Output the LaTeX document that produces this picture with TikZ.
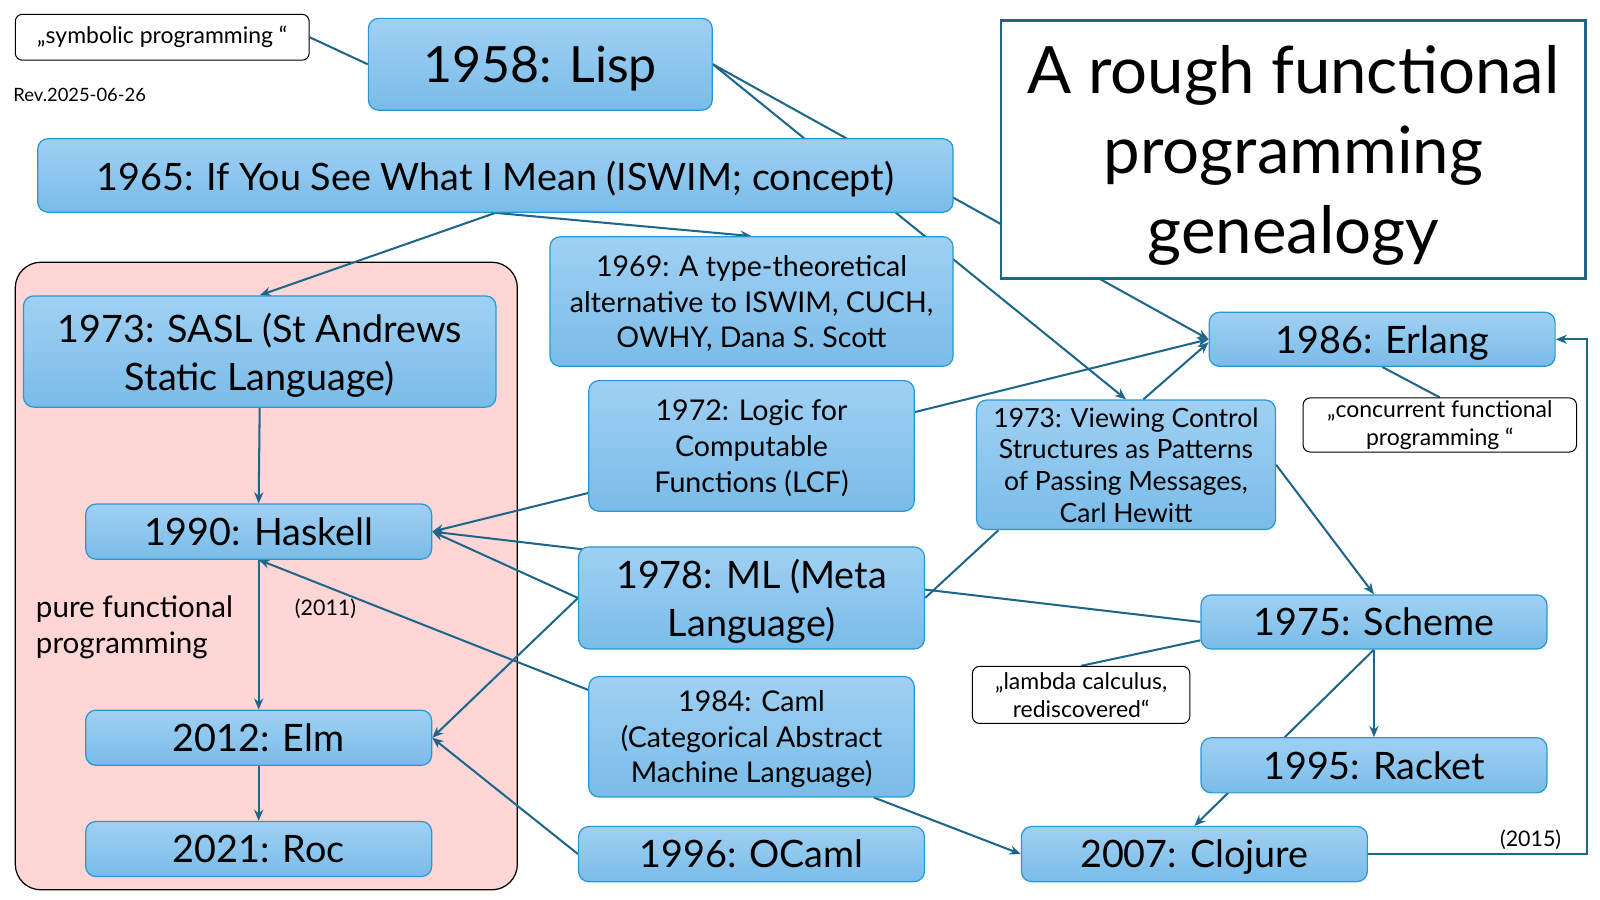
\documentclass[tikz,border=0pt]{standalone}
\usepackage{fontspec}
\setmainfont{Lato}
\usetikzlibrary{arrows.meta}

\definecolor{linkblue}{RGB}{30,102,138}
\definecolor{boxedge}{RGB}{40,152,212}
\definecolor{boxtop}{RGB}{160,208,243}
\definecolor{boxbot}{RGB}{121,188,232}
\definecolor{purepink}{RGB}{255,214,214}

\pgfdeclarelayer{back}
\pgfdeclarelayer{links}
\pgfsetlayers{back,links,main}

\tikzset{
  lang/.style={draw=boxedge, line width=1.2pt, rounded corners=10pt, text depth=0pt,
               top color=boxtop, bottom color=boxbot, inner sep=0pt, align=center},
  quote/.style={draw=black, fill=white, line width=1pt, rounded corners=7pt,
                inner sep=0pt, align=center, font=\fontsize{22.5}{27}\selectfont},
  big/.style={font=\fontsize{37}{47}\selectfont},
  mid/.style={font=\fontsize{28}{35}\selectfont},
  small/.style={font=\fontsize{21}{24}\selectfont},
  link/.style={draw=linkblue, line width=2pt},
}

\begin{document}
\begin{tikzpicture}[x=1pt, y=-1pt, >={Stealth[length=11pt,width=9pt]}]
    \useasboundingbox (0,0) rectangle (1568,882);

    % Title and notes
    \node[draw=linkblue, line width=2.5pt, fill=white, minimum width=573pt, minimum height=253pt,
          inner sep=0pt, align=center, text depth=0pt, font=\fontsize{64}{78}\selectfont] (title) at (1267.5,146.5)
          {A rough functional\\programming\\genealogy};
    \node[quote, minimum width=288pt, minimum height=45pt] (symb) at (159,36.5) {„symbolic programming “};
    \node[anchor=west, inner sep=0pt, font=\fontsize{18}{20}\selectfont] (rev) at (13,93) {Rev.2025-06-26};

    % Languages
    \node[lang, font=\fontsize{49}{60}\selectfont, minimum width=337pt, minimum height=90pt] (lisp) at (529.5,63) {1958: Lisp};
    \node[lang, big, minimum width=897pt, minimum height=72pt] (iswim) at (485.5,172) {1965: If You See What I Mean (ISWIM; concept)};
    \node[lang, mid, minimum width=395pt, minimum height=127pt] (cuch) at (736.5,295.5)
          {1969: A type-theoretical\\alternative to ISWIM, CUCH,\\OWHY, Dana S. Scott};
    \node[lang, big, minimum width=463pt, minimum height=109pt] (sasl) at (254.5,344.5) {1973: SASL (St Andrews\\Static Language)};
    \node[lang, mid, minimum width=319pt, minimum height=128pt] (lcf) at (736.5,437) {1972: Logic for\\Computable\\Functions (LCF)};
    \node[lang, font=\fontsize{26}{31}\selectfont, minimum width=293pt, minimum height=127pt] (hewitt) at (1103.5,455.5)
          {1973: Viewing Control\\Structures as Patterns\\of Passing Messages,\\Carl Hewitt};
    \node[lang, big, minimum width=339pt, minimum height=53pt] (erlang) at (1354.5,332.5) {1986: Erlang};
    \node[quote, minimum width=268pt, minimum height=53pt] (concur) at (1411,416.5) {„concurrent functional\\programming “};
    \node[lang, big, minimum width=339pt, minimum height=54pt] (haskell) at (253.5,521) {1990: Haskell};
    \node[lang, big, minimum width=339pt, minimum height=100pt] (ml) at (736.5,586) {1978: ML (Meta\\Language)};
    \node[lang, big, minimum width=339pt, minimum height=53pt] (scheme) at (1346.5,609.5) {1975: Scheme};
    \node[quote, minimum width=213pt, minimum height=56pt] (lambda) at (1059.5,681) {„lambda calculus,\\rediscovered“};
    \node[anchor=west, inner sep=0pt, align=left, font=\fontsize{29}{35}\selectfont] (pure) at (35,614.5) {pure functional\\programming};
    \node[small, inner sep=0pt] (n2011) at (319,597) {(2011)};
    \node[lang, big, minimum width=339pt, minimum height=54pt] (elm) at (253.5,723) {2012: Elm};
    \node[lang, mid, minimum width=319pt, minimum height=118pt] (caml) at (736.5,722)
          {1984: Caml\\(Categorical Abstract\\Machine Language)};
    \node[lang, big, minimum width=339pt, minimum height=54pt] (racket) at (1346.5,750) {1995: Racket};
    \node[lang, big, minimum width=339pt, minimum height=54pt] (roc) at (253.5,832) {2021: Roc};
    \node[lang, big, minimum width=339pt, minimum height=54pt] (ocaml) at (736.5,837) {1996: OCaml};
    \node[lang, big, minimum width=339pt, minimum height=54pt] (clojure) at (1170.5,837) {2007: Clojure};
    \node[small, inner sep=0pt] (n2015) at (1500,823) {(2015)};

    % Pure functional group
    \begin{pgfonlayer}{back}
        \draw[fill=purepink, line width=1.2pt, rounded corners=25pt] (15,257) rectangle (507,872);
    \end{pgfonlayer}

    % Connectors
    \begin{pgfonlayer}{links}
        \draw[link] (symb.east) -- (lisp.west);
        \draw[link, ->] (lisp.east) -- (erlang.west);
        \draw[link, ->] (lisp.east) -- (hewitt.north);
        \draw[link, ->] (iswim.south) -- (sasl.north);
        \draw[link, ->] (iswim.south) -- (cuch.north);
        \draw[link, ->] (sasl.south) -- (haskell.north);
        \draw[link, <->] (haskell.east) -- (erlang.west);
        \draw[link, ->] (scheme.west) -- (haskell.east);
        \draw[link, ->] (ml.west) -- (haskell.east);
        \draw[link, ->] (ml.west) -- (elm.east);
        \draw[link, ->] (caml.164) -- (haskell.south);
        \draw[link, ->] (haskell.south) -- (elm.north);
        \draw[link, ->] (elm.south) -- (roc.north);
        \draw[link, ->] (ocaml.west) -- (elm.east);
        \draw[link, ->] ([xshift=17pt]hewitt.north) -- ([yshift=-3pt]erlang.west);
        \draw[link, ->] (hewitt.east) -- (scheme.north);
        \draw[link] (ml.east) -- ([xshift=22pt]hewitt.south west);
        \draw[link] ([yshift=-18pt]scheme.west) -- (lambda.north);
        \draw[link, ->] (scheme.south) -- (racket.north);
        \draw[link, ->] (scheme.south) -- (clojure.north);
        \draw[link, ->] ([xshift=120pt]caml.south) -- (clojure.west);
        \draw[link, ->] (clojure.east) -| ([xshift=31pt]erlang.east) -- (erlang.east);
        \draw[link] (erlang.south) -- (concur.north);
    \end{pgfonlayer}
\end{tikzpicture}
\end{document}
